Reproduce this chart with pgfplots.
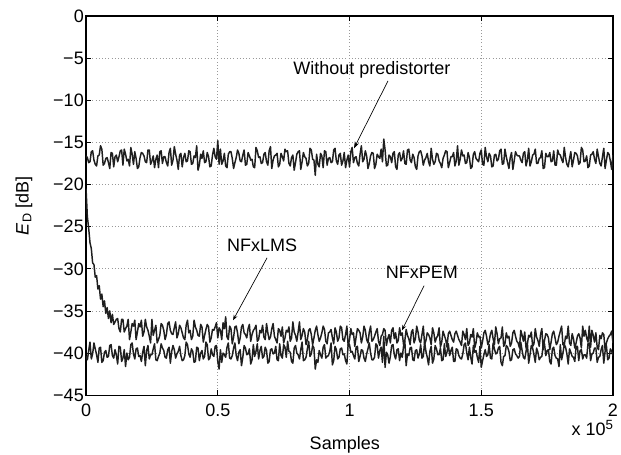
\documentclass[border=0pt]{standalone}
\usepackage{fontspec}
\setmainfont{Liberation Sans}
\usepackage{pgfplots}
\pgfplotsset{compat=1.18}
\usetikzlibrary{arrows.meta}
\newcommand\f{\fontsize{13.5}{16}\selectfont}

\begin{document}
\begin{tikzpicture}
\begin{axis}[
    name=ax,
    scale only axis,
    width=395pt, height=284.25pt,
    xmin=0, xmax=2, ymin=-45, ymax=0,
    xtick={0,0.5,1,1.5,2},
    xticklabels={0,0.5,1,1.5,2},
    ytick={0,-5,-10,-15,-20,-25,-30,-35,-40,-45},
    yticklabels={0,−5,−10,−15,−20,−25,−30,−35,−40,−45},
    tick align=inside,
    major tick length=4pt,
    tick style={black, line width=0.6pt},
    axis line style={line width=1pt},
    grid=major,
    major grid style={dotted, gray!80, line width=0.5pt},
    tick label style={font=\f},
    xticklabel style={yshift=-3pt},
    yticklabel style={inner xsep=1.5pt},
    xlabel={Samples},
    ylabel={\textit{E}\textsubscript{D} [dB]},
    label style={font=\f},
    xlabel style={at={(axis description cs:0.491,-0.1425)}, anchor=base},
    ylabel style={at={(axis description cs:-0.118,0.5)}, anchor=center},
    every axis plot post/.append style={black!88, mark=none, line width=1.1pt, line join=round},
]
% without predistorter
\addplot coordinates {
(0,-16.6)(0.005,-16.8)(0.01,-17.4)(0.015,-17.3)(0.02,-16.1)(0.025,-16.0)(0.03,-17.1)(0.035,-17.6)(0.04,-17.8)(0.045,-16.6)(0.05,-16.5)(0.055,-15.4)(0.06,-15.8)(0.065,-17.7)(0.07,-17.5)(0.075,-16.9)(0.08,-16.8)(0.085,-17.4)(0.09,-18.1)(0.095,-16.2)
(0.10,-16.3)(0.105,-17.9)(0.11,-16.7)(0.115,-16.5)(0.12,-17.3)(0.125,-16.7)(0.13,-16.0)(0.135,-15.9)(0.14,-17.7)(0.145,-15.8)(0.15,-16.4)(0.155,-17.2)(0.16,-17.0)(0.165,-17.8)(0.17,-15.6)(0.175,-16.4)(0.18,-17.6)(0.185,-16.1)(0.19,-16.9)(0.195,-18.1)
(0.20,-17.9)(0.205,-16.8)(0.21,-16.2)(0.215,-16.3)(0.22,-16.6)(0.225,-17.3)(0.23,-17.4)(0.235,-15.9)(0.24,-15.9)(0.245,-17.6)(0.25,-17.2)(0.255,-16.6)(0.26,-18.0)(0.265,-17.0)(0.27,-16.5)(0.275,-18.0)(0.28,-16.1)(0.285,-16.0)(0.29,-17.5)(0.295,-16.7)
(0.30,-16.7)(0.305,-17.4)(0.31,-17.8)(0.315,-16.2)(0.32,-15.7)(0.325,-17.7)(0.33,-17.1)(0.335,-15.5)(0.34,-16.4)(0.345,-17.1)(0.35,-18.2)(0.355,-16.5)(0.36,-16.3)(0.365,-17.9)(0.37,-16.8)(0.375,-16.3)(0.38,-17.3)(0.385,-17.2)(0.39,-16.0)(0.395,-16.1)
(0.40,-17.6)(0.405,-17.5)(0.41,-16.6)(0.415,-16.8)(0.42,-15.4)(0.425,-18.3)(0.43,-17.7)(0.435,-16.4)(0.44,-16.9)(0.445,-16.0)(0.45,-17.4)(0.455,-17.3)(0.46,-16.2)(0.465,-16.7)(0.47,-17.9)(0.475,-17.8)(0.48,-16.5)(0.485,-15.7)(0.49,-16.7)(0.495,-17.0)
(0.50,-14.8)(0.505,-17.6)(0.51,-15.8)(0.515,-17.6)(0.52,-17.2)(0.525,-16.3)(0.53,-17.8)(0.535,-18.0)(0.54,-16.4)(0.545,-16.1)(0.55,-16.1)(0.555,-16.9)(0.56,-18.1)(0.565,-17.4)(0.57,-16.8)(0.575,-15.9)(0.58,-16.3)(0.585,-17.2)(0.59,-17.3)(0.595,-16.5)
(0.60,-15.9)(0.605,-17.7)(0.61,-17.6)(0.615,-16.2)(0.62,-16.6)(0.625,-17.1)(0.63,-17.0)(0.635,-17.9)(0.64,-18.0)(0.645,-15.6)(0.65,-16.0)(0.655,-16.8)(0.66,-16.7)(0.665,-17.5)(0.67,-17.4)(0.675,-16.4)(0.68,-16.2)(0.685,-17.3)(0.69,-17.7)(0.695,-16.0)
(0.70,-15.5)(0.705,-18.1)(0.71,-17.1)(0.715,-16.6)(0.72,-16.5)(0.725,-16.3)(0.73,-17.9)(0.735,-17.6)(0.74,-16.3)(0.745,-16.7)(0.75,-17.2)(0.755,-15.8)(0.76,-16.1)(0.765,-16.0)(0.77,-17.5)(0.775,-17.8)(0.78,-16.8)(0.785,-16.5)(0.79,-18.3)(0.795,-17.4)
(0.80,-16.4)(0.805,-16.1)(0.81,-16.0)(0.815,-18.2)(0.82,-17.3)(0.825,-16.2)(0.83,-16.7)(0.835,-16.9)(0.84,-17.8)(0.845,-17.5)(0.85,-15.7)(0.855,-15.9)(0.86,-17.0)(0.865,-17.1)(0.87,-18.9)(0.875,-16.4)(0.88,-17.6)(0.885,-17.9)(0.89,-16.3)(0.895,-16.6)
(0.90,-18.0)(0.905,-16.0)(0.91,-16.1)(0.915,-17.7)(0.92,-16.9)(0.925,-16.8)(0.93,-17.4)(0.935,-17.3)(0.94,-15.9)(0.945,-15.7)(0.95,-17.2)(0.955,-17.6)(0.96,-16.5)(0.965,-16.3)(0.97,-17.7)(0.975,-17.2)(0.98,-16.2)(0.985,-18.0)(0.99,-17.1)(0.995,-16.5)
(1.00,-17.9)(1.005,-16.1)(1.01,-15.6)(1.015,-17.4)(1.02,-16.8)(1.025,-16.7)(1.03,-17.5)(1.035,-17.8)(1.04,-16.4)(1.045,-15.4)(1.05,-17.3)(1.055,-17.0)(1.06,-16.0)(1.065,-16.6)(1.07,-18.1)(1.075,-17.5)(1.08,-16.6)(1.085,-16.2)(1.09,-16.3)(1.095,-18.1)
(1.10,-17.6)(1.105,-16.4)(1.11,-16.7)(1.115,-16.9)(1.12,-15.8)(1.125,-17.3)(1.13,-14.6)(1.135,-15.9)(1.14,-17.8)(1.145,-17.7)(1.15,-16.5)(1.155,-16.7)(1.16,-17.4)(1.165,-16.3)(1.17,-16.1)(1.175,-17.9)(1.18,-18.2)(1.185,-16.5)(1.19,-16.2)(1.195,-17.2)
(1.20,-16.9)(1.205,-16.0)(1.21,-17.5)(1.215,-17.6)(1.22,-15.9)(1.225,-15.8)(1.23,-17.1)(1.235,-17.4)(1.24,-16.4)(1.245,-16.8)(1.25,-17.9)(1.255,-18.2)(1.26,-16.6)(1.265,-16.1)(1.27,-16.0)(1.275,-16.6)(1.28,-17.7)(1.285,-17.1)(1.29,-16.8)(1.295,-16.3)
(1.30,-17.3)(1.305,-17.8)(1.31,-15.7)(1.315,-17.0)(1.32,-17.6)(1.325,-17.3)(1.33,-16.3)(1.335,-16.4)(1.34,-17.2)(1.345,-17.5)(1.35,-18.0)(1.355,-16.9)(1.36,-16.5)(1.365,-16.0)(1.37,-16.1)(1.375,-18.0)(1.38,-17.4)(1.385,-16.7)(1.39,-16.7)(1.395,-16.2)
(1.40,-17.8)(1.405,-17.2)(1.41,-15.4)(1.415,-17.7)(1.42,-17.0)(1.425,-15.9)(1.43,-16.6)(1.435,-16.5)(1.44,-17.5)(1.445,-17.4)(1.45,-16.2)(1.455,-16.8)(1.46,-18.1)(1.465,-17.9)(1.47,-16.4)(1.475,-16.1)(1.48,-16.9)(1.485,-17.1)(1.49,-17.3)(1.495,-16.3)
(1.50,-15.9)(1.505,-17.6)(1.51,-17.7)(1.515,-15.6)(1.52,-16.7)(1.525,-17.3)(1.53,-16.3)(1.535,-16.6)(1.54,-17.9)(1.545,-17.8)(1.55,-16.5)(1.555,-16.4)(1.56,-17.2)(1.565,-17.0)(1.57,-16.0)(1.575,-15.8)(1.58,-17.6)(1.585,-17.5)(1.59,-15.8)(1.595,-16.7)
(1.60,-17.4)(1.605,-18.1)(1.61,-16.8)(1.615,-16.2)(1.62,-18.2)(1.625,-17.2)(1.63,-16.1)(1.635,-16.5)(1.64,-16.6)(1.645,-16.6)(1.65,-17.1)(1.655,-17.4)(1.66,-16.3)(1.665,-16.1)(1.67,-17.8)(1.675,-17.1)(1.68,-15.7)(1.685,-17.8)(1.69,-17.3)(1.695,-16.5)
(1.70,-16.4)(1.705,-15.8)(1.71,-17.5)(1.715,-17.5)(1.72,-16.9)(1.725,-16.8)(1.73,-16.0)(1.735,-18.1)(1.74,-18.0)(1.745,-16.3)(1.75,-16.7)(1.755,-16.7)(1.76,-16.2)(1.765,-17.3)(1.77,-17.2)(1.775,-16.0)(1.78,-17.7)(1.785,-17.7)(1.79,-15.9)(1.795,-16.4)
(1.80,-16.5)(1.805,-17.0)(1.81,-17.4)(1.815,-15.6)(1.82,-16.8)(1.825,-17.6)(1.83,-17.9)(1.835,-16.9)(1.84,-16.1)(1.845,-17.9)(1.85,-17.1)(1.855,-16.2)(1.86,-16.3)(1.865,-16.6)(1.87,-17.6)(1.875,-17.4)(1.88,-15.6)(1.885,-15.9)(1.89,-17.3)(1.895,-17.2)
(1.90,-16.6)(1.905,-18.0)(1.91,-17.8)(1.915,-16.5)(1.92,-16.4)(1.925,-16.1)(1.93,-17.0)(1.935,-17.5)(1.94,-15.8)(1.945,-16.7)(1.95,-17.5)(1.955,-17.8)(1.96,-16.7)(1.965,-15.7)(1.97,-18.1)(1.975,-17.1)(1.98,-16.2)(1.985,-16.4)(1.99,-17.2)(1.995,-18.2)
(2.00,-16.5)
};
% NFxPEM
\addplot coordinates {
(0,-40.4)(0.005,-40.8)(0.01,-39.7)(0.015,-38.7)(0.02,-40.7)(0.025,-40.1)(0.03,-38.8)(0.035,-39.5)(0.04,-40.2)(0.045,-41.1)(0.05,-39.4)(0.055,-39.3)(0.06,-41.1)(0.065,-40.9)(0.07,-39.9)(0.075,-39.7)(0.08,-40.5)(0.085,-40.4)(0.09,-39.1)(0.095,-39.0)
(0.10,-40.3)(0.105,-40.6)(0.11,-39.6)(0.115,-40.2)(0.12,-41.3)(0.125,-39.2)(0.13,-39.3)(0.135,-41.0)(0.14,-40.6)(0.145,-39.6)(0.15,-41.6)(0.155,-40.0)(0.16,-40.8)(0.165,-40.5)(0.17,-39.0)(0.175,-38.8)(0.18,-40.1)(0.185,-40.7)(0.19,-39.5)(0.195,-39.4)
(0.20,-40.4)(0.205,-40.3)(0.21,-41.0)(0.215,-39.9)(0.22,-39.2)(0.225,-41.5)(0.23,-39.7)(0.235,-39.1)(0.24,-40.7)(0.245,-40.2)(0.25,-40.2)(0.255,-39.5)(0.26,-38.9)(0.265,-40.8)(0.27,-40.9)(0.275,-40.4)(0.28,-40.0)(0.285,-38.9)(0.29,-39.4)(0.295,-39.7)
(0.30,-40.5)(0.305,-40.6)(0.31,-39.6)(0.315,-39.3)(0.32,-41.2)(0.325,-39.8)(0.33,-39.1)(0.335,-39.6)(0.34,-40.6)(0.345,-40.1)(0.35,-39.8)(0.355,-39.2)(0.36,-40.3)(0.365,-40.9)(0.37,-40.8)(0.375,-40.3)(0.38,-38.7)(0.385,-39.0)(0.39,-40.1)(0.395,-40.5)
(0.40,-39.5)(0.405,-39.8)(0.41,-41.1)(0.415,-41.0)(0.42,-39.3)(0.425,-39.4)(0.43,-40.9)(0.435,-40.0)(0.44,-39.7)(0.445,-40.7)(0.45,-40.4)(0.455,-38.7)(0.46,-39.0)(0.465,-40.8)(0.47,-40.6)(0.475,-39.5)(0.48,-40.2)(0.485,-40.4)(0.49,-39.2)(0.495,-39.1)
(0.50,-41.0)(0.505,-41.9)(0.51,-39.6)(0.515,-41.1)(0.52,-40.0)(0.525,-40.2)(0.53,-40.5)(0.535,-39.3)(0.54,-38.8)(0.545,-40.6)(0.55,-40.7)(0.555,-40.3)(0.56,-39.4)(0.565,-38.8)(0.57,-40.3)(0.575,-40.9)(0.58,-39.9)(0.585,-39.6)(0.59,-41.5)(0.595,-40.5)
(0.60,-39.1)(0.605,-39.4)(0.61,-40.2)(0.615,-40.1)(0.62,-39.5)(0.625,-41.3)(0.63,-40.8)(0.635,-39.0)(0.64,-40.4)(0.645,-39.8)(0.65,-38.9)(0.655,-40.7)(0.66,-39.7)(0.665,-39.2)(0.67,-40.6)(0.675,-40.4)(0.68,-39.3)(0.685,-39.7)(0.69,-41.2)(0.695,-41.0)
(0.70,-39.6)(0.705,-39.5)(0.71,-40.1)(0.715,-40.0)(0.72,-39.2)(0.725,-40.8)(0.73,-40.9)(0.735,-38.9)(0.74,-40.3)(0.745,-40.6)(0.75,-39.0)(0.755,-39.3)(0.76,-40.5)(0.765,-38.6)(0.77,-39.8)(0.775,-39.9)(0.78,-41.0)(0.785,-41.2)(0.79,-39.4)(0.795,-39.1)
(0.80,-40.0)(0.805,-40.2)(0.81,-40.7)(0.815,-39.6)(0.82,-38.7)(0.825,-40.9)(0.83,-40.8)(0.835,-40.5)(0.84,-39.5)(0.845,-38.6)(0.85,-40.4)(0.855,-40.1)(0.86,-39.1)(0.865,-39.4)(0.87,-41.9)(0.875,-40.8)(0.88,-41.1)(0.885,-39.7)(0.89,-40.2)(0.895,-40.6)
(0.90,-39.3)(0.905,-39.0)(0.91,-40.6)(0.915,-40.4)(0.92,-40.3)(0.925,-39.8)(0.93,-38.8)(0.935,-41.4)(0.94,-40.9)(0.945,-39.2)(0.95,-39.6)(0.955,-40.7)(0.96,-40.5)(0.965,-39.5)(0.97,-39.4)(0.975,-40.2)(0.98,-40.1)(0.985,-40.9)(0.99,-41.3)(0.995,-38.9)
(1.00,-39.0)(1.005,-39.9)(1.01,-39.8)(1.015,-40.3)(1.02,-40.7)(1.025,-39.3)(1.03,-39.2)(1.035,-41.0)(1.04,-40.4)(1.045,-39.6)(1.05,-39.7)(1.055,-40.6)(1.06,-41.0)(1.065,-40.1)(1.07,-39.5)(1.075,-38.8)(1.08,-40.0)(1.085,-40.8)(1.09,-40.8)(1.095,-40.5)
(1.10,-38.9)(1.105,-39.1)(1.11,-40.6)(1.115,-39.7)(1.12,-39.3)(1.125,-41.1)(1.13,-38.0)(1.135,-41.7)(1.14,-39.9)(1.145,-40.2)(1.15,-41.2)(1.155,-40.4)(1.16,-39.1)(1.165,-39.0)(1.17,-40.2)(1.175,-40.7)(1.18,-39.6)(1.185,-39.5)(1.19,-40.9)(1.195,-40.0)
(1.20,-40.5)(1.205,-39.2)(1.21,-38.6)(1.215,-41.5)(1.22,-40.1)(1.225,-40.3)(1.23,-39.4)(1.235,-39.3)(1.24,-40.8)(1.245,-40.9)(1.25,-39.7)(1.255,-39.6)(1.26,-40.6)(1.265,-40.1)(1.27,-39.0)(1.275,-40.6)(1.28,-40.4)(1.285,-38.7)(1.29,-39.8)(1.295,-40.5)
(1.30,-41.4)(1.305,-39.8)(1.31,-39.2)(1.315,-41.2)(1.32,-40.7)(1.325,-39.1)(1.33,-39.5)(1.335,-40.2)(1.34,-40.2)(1.345,-39.4)(1.35,-40.9)(1.355,-40.8)(1.36,-38.9)(1.365,-40.4)(1.37,-39.9)(1.375,-38.9)(1.38,-40.3)(1.385,-39.7)(1.39,-39.3)(1.395,-41.0)
(1.40,-41.0)(1.405,-39.5)(1.41,-39.6)(1.415,-40.3)(1.42,-40.6)(1.425,-40.7)(1.43,-40.1)(1.435,-39.0)(1.44,-38.8)(1.445,-40.0)(1.45,-40.8)(1.455,-39.3)(1.46,-40.5)(1.465,-41.3)(1.47,-39.1)(1.475,-39.9)(1.48,-39.7)(1.485,-40.5)(1.49,-41.1)(1.495,-39.2)
(1.50,-41.7)(1.505,-40.9)(1.51,-40.2)(1.515,-39.6)(1.52,-40.4)(1.525,-40.2)(1.53,-39.0)(1.535,-40.6)(1.54,-40.7)(1.545,-38.8)(1.55,-39.5)(1.555,-40.1)(1.56,-40.0)(1.565,-39.4)(1.57,-39.2)(1.575,-41.1)(1.58,-41.5)(1.585,-40.4)(1.59,-40.3)(1.595,-39.1)
(1.60,-39.3)(1.605,-39.8)(1.61,-40.9)(1.615,-40.8)(1.62,-39.6)(1.625,-39.5)(1.63,-40.1)(1.635,-40.3)(1.64,-40.6)(1.645,-40.4)(1.65,-38.7)(1.655,-39.7)(1.66,-40.5)(1.665,-40.7)(1.67,-39.8)(1.675,-38.8)(1.68,-41.2)(1.685,-40.2)(1.69,-39.1)(1.695,-39.4)
(1.70,-40.2)(1.705,-41.1)(1.71,-39.4)(1.715,-39.9)(1.72,-40.8)(1.725,-40.5)(1.73,-40.4)(1.735,-39.1)(1.74,-38.9)(1.745,-40.3)(1.75,-39.7)(1.755,-39.6)(1.76,-41.0)(1.765,-41.3)(1.77,-39.5)(1.775,-39.3)(1.78,-40.3)(1.785,-40.6)(1.79,-40.7)(1.795,-41.6)
(1.80,-39.0)(1.805,-40.8)(1.81,-40.0)(1.815,-39.0)(1.82,-39.3)(1.825,-40.1)(1.83,-41.3)(1.835,-39.5)(1.84,-39.9)(1.845,-40.4)(1.85,-40.5)(1.855,-41.0)(1.86,-39.2)(1.865,-39.2)(1.87,-40.9)(1.875,-39.7)(1.88,-39.6)(1.885,-40.7)(1.89,-40.2)(1.895,-40.2)
(1.90,-40.6)(1.905,-38.9)(1.91,-38.8)(1.915,-40.9)(1.92,-40.1)(1.925,-40.0)(1.93,-39.4)(1.935,-39.4)(1.94,-41.1)(1.945,-40.5)(1.95,-40.4)(1.955,-39.6)(1.96,-39.1)(1.965,-41.2)(1.97,-39.8)(1.975,-39.1)(1.98,-40.8)(1.985,-40.6)(1.99,-39.5)(1.995,-39.8)
(2.00,-40.3)
};
% NFxLMS
\addplot coordinates {
(0,-20.5)(0.005,-23.8)(0.010,-25.2)(0.015,-26.9)(0.020,-27.6)(0.025,-29.3)(0.030,-29.5)(0.035,-31.0)(0.040,-30.8)(0.045,-32.4)
(0.050,-32.0)(0.055,-33.6)(0.060,-33.0)(0.065,-34.5)(0.070,-33.8)(0.075,-35.3)(0.080,-34.6)(0.085,-35.9)(0.090,-35.0)(0.095,-36.4)
(0.10,-35.4)(0.105,-36.6)(0.11,-36.3)(0.115,-36.0)(0.12,-35.9)(0.125,-37.1)(0.13,-37.5)(0.135,-36.0)(0.14,-36.0)(0.145,-37.5)(0.15,-37.1)(0.155,-36.8)(0.16,-36.0)(0.165,-38.4)(0.17,-37.5)(0.175,-36.5)(0.18,-36.8)(0.185,-36.1)(0.19,-38.4)(0.195,-37.5)
(0.20,-36.5)(0.205,-36.9)(0.21,-36.1)(0.215,-38.0)(0.22,-37.5)(0.225,-36.0)(0.23,-36.9)(0.235,-37.3)(0.24,-38.0)(0.245,-38.8)(0.25,-36.0)(0.255,-37.9)(0.26,-37.3)(0.265,-36.7)(0.27,-38.8)(0.275,-38.4)(0.28,-37.9)(0.285,-36.5)(0.29,-36.7)(0.295,-37.3)
(0.30,-38.4)(0.305,-37.8)(0.31,-36.5)(0.315,-36.3)(0.32,-37.3)(0.325,-37.7)(0.33,-37.8)(0.335,-37.0)(0.34,-36.3)(0.345,-38.2)(0.35,-37.7)(0.355,-36.7)(0.36,-37.0)(0.365,-37.6)(0.37,-38.2)(0.375,-38.4)(0.38,-36.7)(0.385,-36.1)(0.39,-37.6)(0.395,-37.3)
(0.40,-38.4)(0.405,-38.0)(0.41,-36.1)(0.415,-36.9)(0.42,-37.3)(0.425,-37.9)(0.43,-38.0)(0.435,-36.6)(0.44,-36.9)(0.445,-38.7)(0.45,-37.9)(0.455,-37.2)(0.46,-36.6)(0.465,-36.9)(0.47,-38.7)(0.475,-38.2)(0.48,-37.2)(0.485,-37.3)(0.49,-36.9)(0.495,-36.4)
(0.50,-38.2)(0.505,-37.0)(0.51,-37.3)(0.515,-38.4)(0.52,-36.4)(0.525,-37.1)(0.53,-35.7)(0.535,-38.1)(0.54,-38.4)(0.545,-36.8)(0.55,-37.1)(0.555,-38.9)(0.56,-38.1)(0.565,-36.9)(0.57,-36.8)(0.575,-37.6)(0.58,-38.9)(0.585,-38.2)(0.59,-36.9)(0.595,-36.6)
(0.60,-37.6)(0.605,-37.8)(0.61,-38.2)(0.615,-37.1)(0.62,-36.6)(0.625,-38.6)(0.63,-37.8)(0.635,-37.3)(0.64,-37.1)(0.645,-36.7)(0.65,-38.6)(0.655,-38.4)(0.66,-37.3)(0.665,-37.6)(0.67,-36.7)(0.675,-38.1)(0.68,-38.4)(0.685,-36.5)(0.69,-37.6)(0.695,-38.4)
(0.70,-38.1)(0.705,-37.1)(0.71,-36.5)(0.715,-38.0)(0.72,-38.4)(0.725,-38.8)(0.73,-37.1)(0.735,-37.3)(0.74,-38.0)(0.745,-36.9)(0.75,-38.8)(0.755,-38.2)(0.76,-37.3)(0.765,-37.5)(0.77,-36.9)(0.775,-38.6)(0.78,-38.2)(0.785,-36.3)(0.79,-37.5)(0.795,-37.9)
(0.80,-38.6)(0.805,-37.5)(0.81,-36.3)(0.815,-38.4)(0.82,-37.9)(0.825,-37.1)(0.83,-37.5)(0.835,-39.0)(0.84,-38.4)(0.845,-37.3)(0.85,-37.1)(0.855,-37.8)(0.86,-39.0)(0.865,-38.2)(0.87,-37.3)(0.875,-36.8)(0.88,-37.8)(0.885,-38.6)(0.89,-38.2)(0.895,-37.6)
(0.90,-36.8)(0.905,-37.2)(0.91,-38.6)(0.915,-38.9)(0.92,-37.6)(0.925,-37.5)(0.93,-37.2)(0.935,-38.2)(0.94,-38.9)(0.945,-37.0)(0.95,-37.5)(0.955,-38.6)(0.96,-38.2)(0.965,-36.8)(0.97,-37.0)(0.975,-38.4)(0.98,-38.6)(0.985,-37.8)(0.99,-36.8)(0.995,-39.2)
(1.00,-38.4)(1.005,-37.1)(1.01,-37.8)(1.015,-37.6)(1.02,-39.2)(1.025,-38.1)(1.03,-37.1)(1.035,-37.3)(1.04,-37.6)(1.045,-38.8)(1.05,-38.1)(1.055,-36.8)(1.06,-37.3)(1.065,-38.4)(1.07,-38.8)(1.075,-37.5)(1.08,-36.8)(1.085,-38.6)(1.09,-38.4)(1.095,-38.0)
(1.10,-37.5)(1.105,-37.1)(1.11,-38.6)(1.115,-39.1)(1.12,-38.0)(1.125,-37.8)(1.13,-37.1)(1.135,-37.3)(1.14,-39.1)(1.145,-38.3)(1.15,-37.8)(1.155,-38.8)(1.16,-37.3)(1.165,-37.0)(1.17,-38.3)(1.175,-37.6)(1.18,-38.8)(1.185,-38.5)(1.19,-37.0)(1.195,-37.9)
(1.20,-37.6)(1.205,-39.0)(1.21,-38.5)(1.215,-37.2)(1.22,-37.9)(1.225,-38.3)(1.23,-39.0)(1.235,-37.5)(1.24,-37.2)(1.245,-38.8)(1.25,-38.3)(1.255,-36.8)(1.26,-37.5)(1.265,-38.5)(1.27,-38.8)(1.275,-37.8)(1.28,-36.8)(1.285,-39.0)(1.29,-38.5)(1.295,-37.6)
(1.30,-37.8)(1.305,-38.2)(1.31,-39.0)(1.315,-37.0)(1.32,-37.6)(1.325,-38.7)(1.33,-38.2)(1.335,-37.9)(1.34,-37.0)(1.345,-39.3)(1.35,-38.7)(1.355,-37.4)(1.36,-37.9)(1.365,-38.4)(1.37,-39.3)(1.375,-37.7)(1.38,-37.4)(1.385,-37.9)(1.39,-38.4)(1.395,-38.7)
(1.40,-37.7)(1.405,-37.4)(1.41,-37.9)(1.415,-38.4)(1.42,-38.7)(1.425,-39.1)(1.43,-37.4)(1.435,-37.8)(1.44,-38.4)(1.445,-37.1)(1.45,-39.1)(1.455,-38.8)(1.46,-37.8)(1.465,-38.1)(1.47,-37.1)(1.475,-39.4)(1.48,-38.8)(1.485,-37.6)(1.49,-38.1)(1.495,-38.0)
(1.50,-39.4)(1.505,-38.6)(1.51,-37.6)(1.515,-37.3)(1.52,-38.0)(1.525,-39.0)(1.53,-38.6)(1.535,-37.7)(1.54,-37.3)(1.545,-38.3)(1.55,-39.0)(1.555,-36.9)(1.56,-37.7)(1.565,-38.9)(1.57,-38.3)(1.575,-38.2)(1.58,-36.9)(1.585,-39.2)(1.59,-38.9)(1.595,-37.6)
(1.60,-38.2)(1.605,-38.0)(1.61,-39.2)(1.615,-38.8)(1.62,-37.6)(1.625,-37.3)(1.63,-38.0)(1.635,-38.6)(1.64,-38.8)(1.645,-39.4)(1.65,-37.3)(1.655,-37.9)(1.66,-38.6)(1.665,-37.5)(1.67,-39.4)(1.675,-38.9)(1.68,-37.9)(1.685,-38.1)(1.69,-37.5)(1.695,-39.2)
(1.70,-38.9)(1.705,-37.1)(1.71,-38.1)(1.715,-38.5)(1.72,-39.2)(1.725,-37.8)(1.73,-37.1)(1.735,-39.6)(1.74,-38.5)(1.745,-37.7)(1.75,-37.8)(1.755,-38.2)(1.76,-39.6)(1.765,-38.7)(1.77,-37.7)(1.775,-37.4)(1.78,-38.2)(1.785,-39.0)(1.79,-38.7)(1.795,-38.0)
(1.80,-37.4)(1.805,-36.8)(1.81,-39.0)(1.815,-39.1)(1.82,-38.0)(1.825,-38.3)(1.83,-36.8)(1.835,-38.8)(1.84,-39.1)(1.845,-37.7)(1.85,-38.3)(1.855,-39.4)(1.86,-38.8)(1.865,-38.0)(1.87,-37.7)(1.875,-38.2)(1.88,-39.4)(1.885,-36.8)(1.89,-38.0)(1.895,-37.3)
(1.90,-38.2)(1.905,-38.7)(1.91,-36.8)(1.915,-39.3)(1.92,-37.3)(1.925,-37.9)(1.93,-38.7)(1.935,-37.6)(1.94,-39.3)(1.945,-39.6)(1.95,-37.9)(1.955,-38.3)(1.96,-37.6)(1.965,-37.8)(1.97,-39.6)(1.975,-38.8)(1.98,-38.3)(1.985,-38.0)(1.99,-37.8)(1.995,-37.4)
(2.00,-38.8)
};
\node[font=\f] at (axis cs:1.085,-6.4) {Without predistorter};
\draw[-{Stealth[length=5pt,width=3.5pt]}, line width=0.5pt] (axis cs:1.146,-7.7) -- (axis cs:1.017,-15.7);
\node[font=\f] at (axis cs:0.668,-27.2) {NFxLMS};
\draw[-{Stealth[length=4pt,width=3pt]}, line width=0.5pt] (axis cs:0.687,-28.7) -- (axis cs:0.558,-36.1);
\node[font=\f] at (axis cs:1.275,-30.4) {NFxPEM};
\draw[-{Stealth[length=4pt,width=3pt]}, line width=0.5pt] (axis cs:1.283,-32.0) -- (axis cs:1.199,-37.3);
\end{axis}
\node[anchor=base west, font=\f] at ([xshift=-34.5pt, yshift=-30pt]ax.south east) {x 10\raisebox{4pt}{\fontsize{10}{12}\selectfont 5}};
\pgfresetboundingbox
\path ([shift={(-64.5pt,-44.25pt)}]ax.south west) rectangle ([shift={(6pt,12pt)}]ax.north east);
\end{tikzpicture}
\end{document}
